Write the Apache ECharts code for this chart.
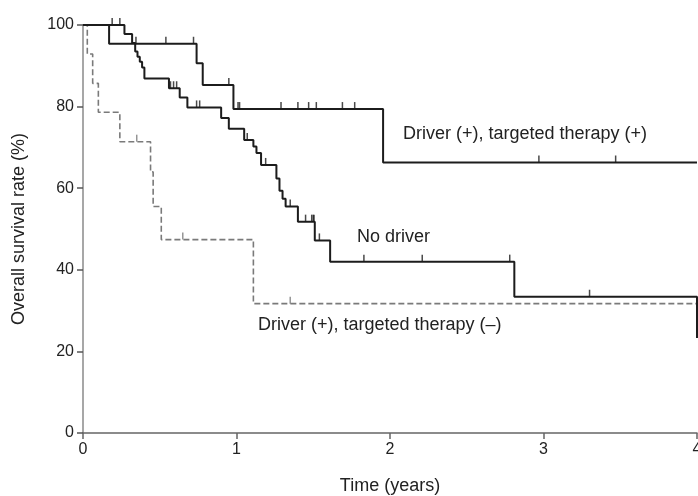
<!DOCTYPE html>
<html>
<head>
<meta charset="utf-8">
<script src="https://cdn.jsdelivr.net/npm/echarts@6/dist/echarts.min.js"></script>
<style>
  html, body { margin: 0; padding: 0; background: #fff; }
  #chart { width: 698px; height: 496px; }
</style>
</head>
<body>
<div id="chart"></div>
<script>
// Kaplan-Meier steps: time (years) and survival (%)
const targetedPlusT = [0, 0.17, 0.74, 0.78, 0.98, 1.955, 4.0];
const targetedPlusS = [100, 95.4, 90.6, 85.3, 79.4, 66.3, 66.3];
const targetedPlusCensor = [0.345, 0.54, 0.72, 0.95, 1.01, 1.02, 1.29, 1.40, 1.47, 1.52, 1.69, 1.77, 2.97, 3.47];

const noDriverT = [0, 0.27, 0.32, 0.34, 0.355, 0.37, 0.385, 0.40, 0.56, 0.63, 0.68, 0.90, 0.95, 1.05, 1.11, 1.13, 1.16, 1.26, 1.28, 1.30, 1.32, 1.40, 1.51, 1.61, 2.81, 4.0];
const noDriverS = [100, 97.8, 95.6, 93.5, 92.2, 91.0, 89.6, 86.9, 84.5, 82.2, 79.8, 77.2, 74.6, 71.8, 70.2, 68.6, 65.7, 62.4, 59.4, 57.4, 55.5, 51.8, 47.2, 42.0, 33.4, 23.3];
const noDriverCensor = [0.19, 0.24, 0.57, 0.59, 0.61, 0.74, 0.76, 1.07, 1.19, 1.35, 1.45, 1.49, 1.50, 1.505, 1.54, 1.83, 2.21, 2.78, 3.30];

const targetedMinusT = [0, 0.028, 0.063, 0.10, 0.24, 0.44, 0.457, 0.51, 1.11, 4.0];
const targetedMinusS = [100, 92.9, 85.7, 78.6, 71.4, 64.0, 55.5, 47.4, 31.7, 31.7];
const targetedMinusCensor = [0.35, 0.65, 1.35];

const xTicks = [0, 1, 2, 3, 4];
const yTicks = [0, 20, 40, 60, 80, 100];

function pairs(t, s) {
  return t.map((v, i) => [v, s[i]]);
}
// survival value held at time x (step function)
function valueAt(t, s, x) {
  let v = s[0];
  for (let i = 0; i < t.length; i++) {
    if (t[i] <= x) v = s[i];
  }
  return v;
}
function censorPts(t, s, c) {
  return c.map(x => [x, valueAt(t, s, x)]);
}

const black = "#1c1c1c";
const grey = "#7a7a7a";

let myChart = echarts.init(document.getElementById("chart"));
myChart.setOption({
  animation: false,
  grid: { left: 83, right: 1, top: 25, bottom: 63, containLabel: false, outerBoundsMode: "none" },
  xAxis: {
    type: "value",
    min: xTicks[0],
    max: xTicks[xTicks.length - 1],
    interval: 1,
    name: "Time (years)",
    nameLocation: "middle",
    nameGap: 44,
    nameTextStyle: { fontSize: 18, color: "#222", fontFamily: "Liberation Sans" },
    axisLine: { lineStyle: { color: "#666", width: 1.5 } },
    axisTick: { show: true, length: 6, lineStyle: { color: "#666", width: 1.5 } },
    axisLabel: { fontSize: 16, color: "#222", margin: 9, fontFamily: "Liberation Sans" },
    splitLine: { show: false },
  },
  yAxis: {
    type: "value",
    min: yTicks[0],
    max: yTicks[yTicks.length - 1],
    interval: 20,
    name: "Overall survival rate (%)",
    nameLocation: "middle",
    nameGap: 55,
    nameTextStyle: { fontSize: 18, color: "#222", fontFamily: "Liberation Sans" },
    axisLine: { show: true, lineStyle: { color: "#8a8a8a", width: 1.5 } },
    axisTick: { show: true, length: 6, lineStyle: { color: "#555", width: 1.5 } },
    axisLabel: { fontSize: 16, color: "#222", margin: 9, fontFamily: "Liberation Sans" },
    splitLine: { show: false },
  },
  graphic: [
    {
      type: "text", left: 403, top: 125,
      style: { text: "Driver (+), targeted therapy (+)", font: "18px Liberation Sans", fill: "#222" },
    },
    {
      type: "text", left: 357, top: 228,
      style: { text: "No driver", font: "18px Liberation Sans", fill: "#222" },
    },
    {
      type: "text", left: 258, top: 316,
      style: { text: "Driver (+), targeted therapy (–)", font: "18px Liberation Sans", fill: "#222" },
    },
  ],
  series: [
    {
      name: "Driver (+), targeted therapy (–)",
      type: "line",
      step: "end",
      showSymbol: false,
      data: pairs(targetedMinusT, targetedMinusS),
      lineStyle: { color: grey, width: 1.6, type: [6, 3] },
      z: 1,
    },
    {
      type: "scatter",
      data: censorPts(targetedMinusT, targetedMinusS, targetedMinusCensor),
      symbol: "rect",
      symbolSize: [1.5, 7],
      symbolOffset: [0, -3.5],
      itemStyle: { color: grey },
      z: 1,
    },
    {
      name: "No driver",
      type: "line",
      step: "end",
      showSymbol: false,
      data: pairs(noDriverT, noDriverS),
      lineStyle: { color: black, width: 2 },
      z: 2,
    },
    {
      type: "scatter",
      data: censorPts(noDriverT, noDriverS, noDriverCensor),
      symbol: "rect",
      symbolSize: [1.5, 7],
      symbolOffset: [0, -3.5],
      itemStyle: { color: black },
      z: 2,
    },
    {
      name: "Driver (+), targeted therapy (+)",
      type: "line",
      step: "end",
      showSymbol: false,
      data: pairs(targetedPlusT, targetedPlusS),
      lineStyle: { color: black, width: 2 },
      z: 3,
    },
    {
      type: "scatter",
      data: censorPts(targetedPlusT, targetedPlusS, targetedPlusCensor),
      symbol: "rect",
      symbolSize: [1.5, 7],
      symbolOffset: [0, -3.5],
      itemStyle: { color: black },
      z: 3,
    },
  ],
});
</script>
</body>
</html>
